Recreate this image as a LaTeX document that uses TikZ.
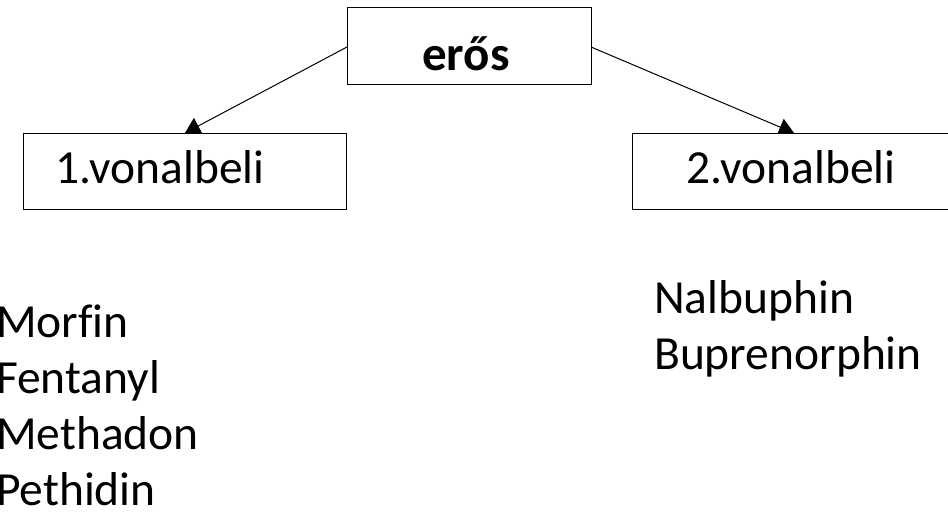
\documentclass[tikz,border=0pt]{standalone}
\usepackage{fontspec}
\setmainfont[Ligatures=NoCommon]{Carlito}
\usetikzlibrary{arrows.meta}
\tikzset{
  box/.style={draw=black, line width=1.4pt, fill=white, inner sep=0pt},
  label/.style={inner sep=0pt, font=\fontsize{47.5}{56}\selectfont},
  link/.style={draw=black, line width=1pt, -{Triangle[width=18pt,length=15pt]}},
}
\begin{document}
\begin{tikzpicture}[x=1pt,y=1pt]
  \useasboundingbox (0,0) rectangle (948,-512);
  \clip (0,0) rectangle (948,-512);
  \fill[white] (0,0) rectangle (948,-512);

  % connectors (drawn first so the frames sit on top of them)
  \coordinate (lstart) at (347,-47);
  \coordinate (rstart) at (591,-47);
  \coordinate (lend) at (185,-133);
  \coordinate (rend) at (794,-133);
  \draw[link] (lstart) -- (lend);
  \draw[link] (rstart) -- (rend);

  % frames
  \node[box, anchor=north west, minimum width=244pt, minimum height=77pt] (top) at (347,-7) {};
  \node[box, anchor=north west, minimum width=323pt, minimum height=76pt] (left) at (23,-133) {};
  \node[box, anchor=north west, minimum width=330pt, minimum height=76pt] (right) at (632,-133) {};

  % captions
  \node[label, anchor=base, font=\fontsize{49}{56}\selectfont\bfseries] (toptext) at (466,-70) {erős};
  \node[label, anchor=base west] (lefttext) at (55,-183) {1.vonalbeli};
  \node[label, anchor=base west] (righttext) at (686,-183) {2.vonalbeli};

  % drug lists
  \node[label, anchor=base west] (m1) at (-4,-337) {Morfin};
  \node[label, anchor=base west] (m2) at (-4,-393) {Fentanyl};
  \node[label, anchor=base west] (m3) at (-4,-449) {Methadon};
  \node[label, anchor=base west] (m4) at (-4,-505) {Pethidin};
  \node[label, anchor=base west] (n1) at (654,-313) {Nalbuphin};
  \node[label, anchor=base west] (n2) at (654,-369) {Buprenorphin};
\end{tikzpicture}
\end{document}
